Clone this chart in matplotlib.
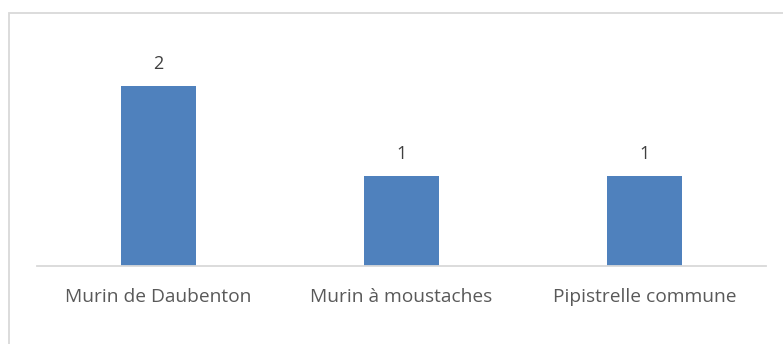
import matplotlib.pyplot as plt
from matplotlib.patches import Rectangle

species = ['Murin de Daubenton', 'Murin à moustaches', 'Pipistrelle commune']
counts = [2, 1, 1]

W, H = 783, 344
fig = plt.figure(figsize=(W / 100, H / 100), dpi=100)
plt.rcParams['font.family'] = ['Open Sans', 'DejaVu Sans']

# chart frame, runs off the right and bottom edges
fig.patches.append(Rectangle((9 / W, -0.1), 1.1, 1.1 - 13 / H,
                             transform=fig.transFigure, fill=False,
                             edgecolor='#d9d9d9', linewidth=1.3))

ax = fig.add_axes([37 / W, (H - 266) / H, (766 - 37) / W, (266 - 41) / H])
x = range(len(species))
bars = ax.bar(x, counts, width=0.31, color='#4f81bd')
ax.set_xlim(-0.5, len(species) - 0.5)
ax.set_ylim(0, 2.5)

for b, v in zip(bars, counts):
    ax.text(b.get_x() + b.get_width() / 2, v + 0.14, str(v), ha='center',
            va='bottom', fontsize=13, color='#404040')

ax.set_xticks(list(x))
ax.set_xticklabels(species, fontsize=13.8, color='#595959')
ax.tick_params(axis='x', length=0, pad=16)
ax.set_yticks([])
for s in ['top', 'right', 'left']:
    ax.spines[s].set_visible(False)
ax.spines['bottom'].set_color('#d9d9d9')
ax.spines['bottom'].set_linewidth(1.3)

fig.savefig('out.png', dpi=100)
